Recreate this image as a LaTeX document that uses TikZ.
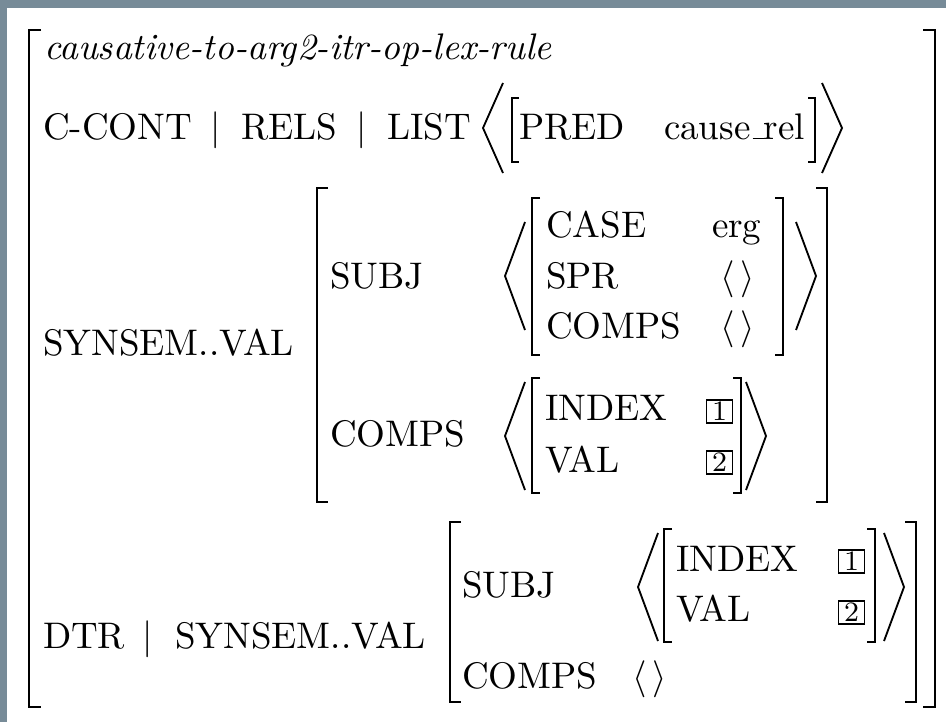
\documentclass[tikz,border=0pt]{standalone}
\definecolor{edgegrey}{RGB}{119,139,152}
% square brackets: x, top y, bottom y, tick length
\newcommand\avmlb[4]{\draw[brk] ({#1+#4},#2) -- (#1,#2) -- (#1,#3) -- ({#1+#4},#3);}
\newcommand\avmrb[4]{\draw[brk] ({#1-#4},#2) -- (#1,#2) -- (#1,#3) -- ({#1-#4},#3);}
% angle brackets: x of the open ends, top y, bottom y
\newcommand\avmla[3]{\draw[ang] (#1,#2) -- ({#1-20},{(#2+#3)/2}) -- (#1,#3);}
\newcommand\avmra[3]{\draw[ang] (#1,#2) -- ({#1+20},{(#2+#3)/2}) -- (#1,#3);}
% short underscore resting on the baseline
\newcommand\lowbar{\kern.06em\rule{.3em}{.4pt}}
\begin{document}
\begin{tikzpicture}[x=0.27027pt,y=-0.27027pt,
  lbl/.style={anchor=base west,inner sep=0pt,outer sep=0pt,font=\fontsize{10}{12}\selectfont},
  itl/.style={lbl,font=\fontsize{10}{12}\selectfont\itshape},
  sep/.style={anchor=base,inner sep=0pt,outer sep=0pt,font=\fontsize{10}{12}\selectfont},
  tagbox/.style={draw,line width=0.3pt,inner sep=0pt,minimum width=7.2pt,minimum height=6.2pt,font=\fontsize{7.6}{8}\selectfont},
  brk/.style={line width=0.75pt,line cap=butt,line join=miter},
  ang/.style={line width=0.5pt,line cap=butt,line join=miter}]
\useasboundingbox (0,0) rectangle (946,722);
\fill[edgegrey] (0,0) rectangle (946,722);
\fill[white] (7,8) rectangle (946,722);

% outermost feature structure
\avmlb{29}{30}{707}{12}
\avmrb{935}{30}{707}{12}

\node[itl] (type) at (44,60) {causative-to-arg2-itr-op-lex-rule};

% C-CONT | RELS | LIST
\node[lbl] (ccont) at (43,139) {C-CONT};
\node[sep] (bar1) at (216,139) {$|$};
\node[lbl] (rels) at (241,139) {RELS};
\node[sep] (bar2) at (362,139) {$|$};
\node[lbl] (list) at (387,139) {LIST};
\avmla{503}{83}{173}
\avmlb{512}{98}{162}{7}
\node[lbl] (pred) at (519,139) {PRED};
\node[lbl] (predval) at (664,139) {cause\lowbar rel};
\avmrb{815}{98}{162}{7}
\avmra{822}{83}{173}

% SYNSEM..VAL
\node[lbl] (synsem) at (43,355) {SYNSEM..VAL};
\avmlb{317}{188}{502}{11}
\avmrb{827}{188}{502}{11}

\node[lbl] (subj) at (330,288) {SUBJ};
\avmla{525}{222}{330}
\avmlb{532}{198}{355}{8}
\node[lbl] (case) at (546,237) {CASE};
\node[lbl] (caseval) at (712,237) {erg};
\node[lbl] (spr) at (546,288) {SPR};
\node[lbl] (sprval) at (720,288) {$\langle\,\rangle$};
\node[lbl] (comps) at (546,338) {COMPS};
\node[lbl] (compsval) at (720,338) {$\langle\,\rangle$};
\avmrb{783}{198}{355}{8}
\avmra{796}{222}{330}

\node[lbl] (comps2) at (330,446) {COMPS};
\avmla{525}{382}{490}
\avmlb{532}{378}{493}{8}
\node[lbl] (index) at (545,420) {INDEX};
\node[tagbox] (tag1) at (719.5,411.5) {1};
\node[lbl] (val) at (545,472) {VAL};
\node[tagbox] (tag2) at (719.5,462.5) {2};
\avmrb{741}{378}{493}{8}
\avmra{746}{382}{490}

% DTR | SYNSEM..VAL
\node[lbl] (dtr) at (43,648) {DTR};
\node[sep] (bar3) at (148,648) {$|$};
\node[lbl] (synsem2) at (175,648) {SYNSEM..VAL};
\avmlb{450}{522}{702}{11}
\avmrb{916}{522}{702}{11}

\node[lbl] (subj2) at (462,597) {SUBJ};
\avmla{658}{533}{641}
\avmlb{664}{529}{642}{8}
\node[lbl] (index2) at (676,571) {INDEX};
\node[tagbox] (tag3) at (851.5,561.5) {1};
\node[lbl] (val2) at (676,621) {VAL};
\node[tagbox] (tag4) at (851.5,612.5) {2};
\avmrb{875}{529}{642}{8}
\avmra{884}{533}{641}

\node[lbl] (comps3) at (462,688) {COMPS};
\node[lbl] (compsval3) at (632,688) {$\langle\,\rangle$};
\end{tikzpicture}
\end{document}
